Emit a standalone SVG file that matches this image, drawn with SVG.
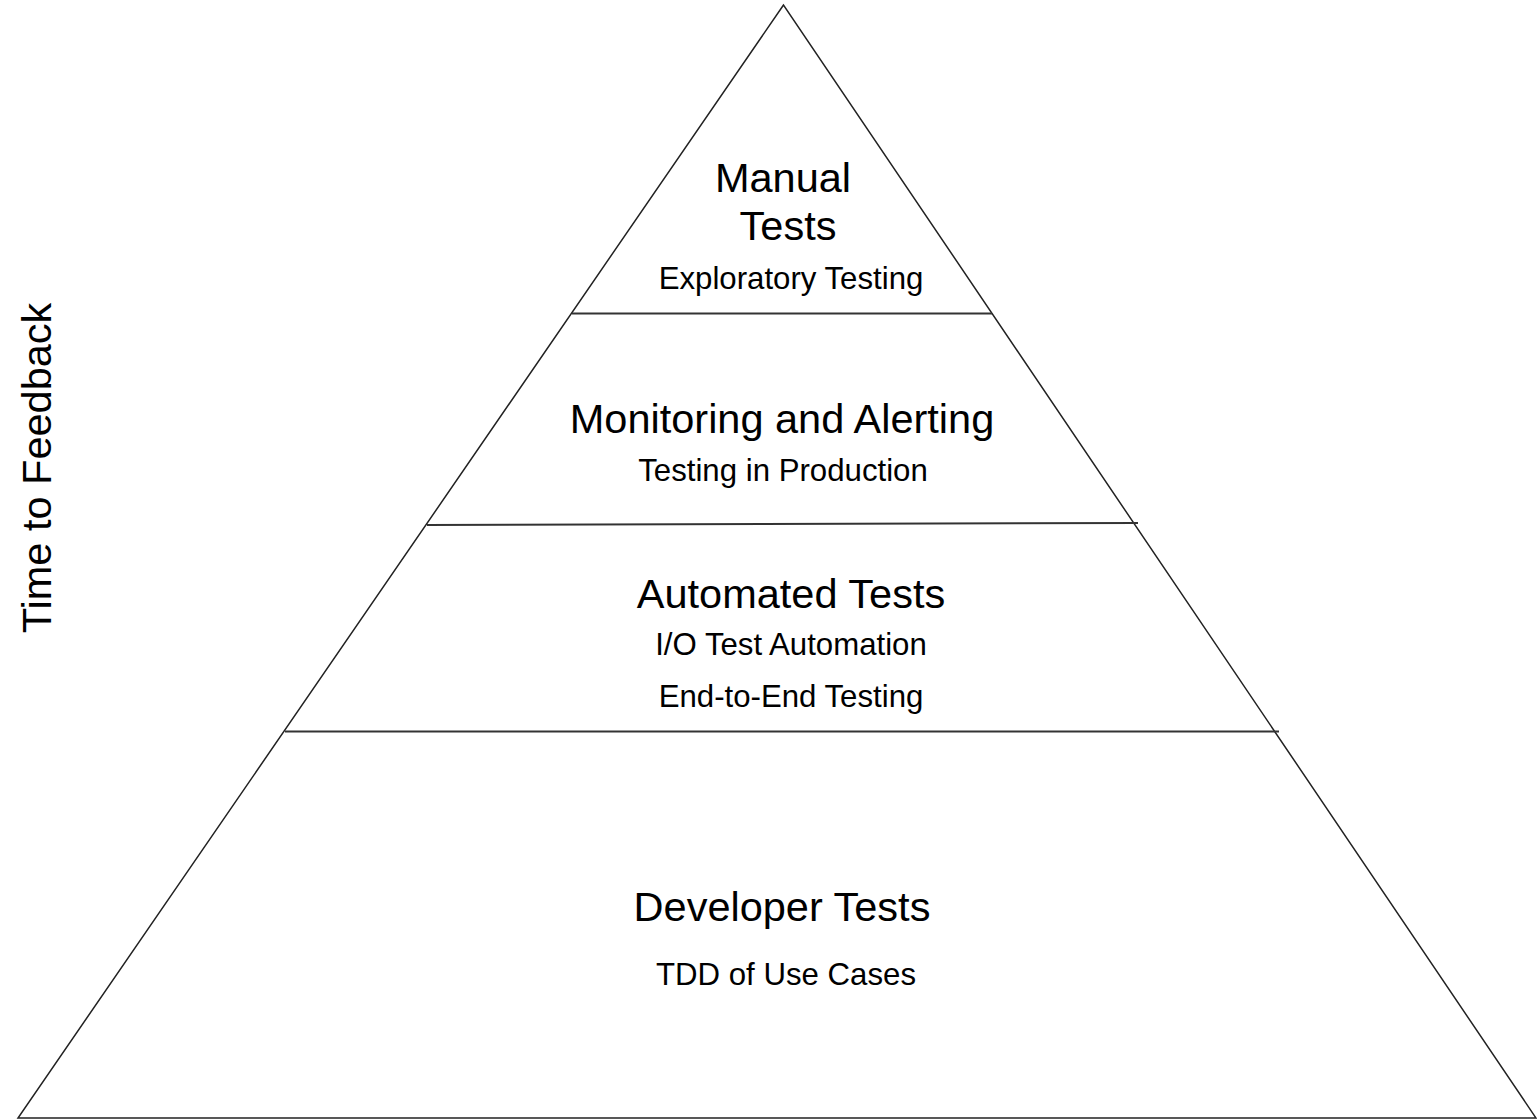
<svg xmlns="http://www.w3.org/2000/svg" width="1537" height="1120" viewBox="0 0 1537 1120">
<style>
.edge{fill:none;stroke:#222;stroke-width:1.5}
.div{fill:none;stroke:#333;stroke-width:2}
.big{font-family:"Liberation Sans",Arial,sans-serif;font-size:41.5px;fill:#000;text-anchor:middle}
.small{font-family:"Liberation Sans",Arial,sans-serif;font-size:31.2px;fill:#000;text-anchor:middle}
</style>
<rect width="1537" height="1120" fill="#fff"/>
<g id="pyramid">
<polygon class="edge" points="783.5,5 18,1118 1536,1118"/>
</g>
<g id="connectors">
<line class="div" x1="572" y1="313.5" x2="992" y2="313.5"/>
<line class="div" x1="427" y1="525" x2="1138" y2="523"/>
<line class="div" x1="285" y1="731.5" x2="1279" y2="731.5"/>
</g>
<g id="manual">
<text class="big" x="783" y="192">Manual</text>
<text class="big" x="788" y="240">Tests</text>
<text class="small" x="791" y="289">Exploratory Testing</text>
</g>
<g id="monitoring">
<text class="big" x="782" y="433">Monitoring and Alerting</text>
<text class="small" x="783" y="481">Testing in Production</text>
</g>
<g id="automated">
<text class="big" x="791" y="608">Automated Tests</text>
<text class="small" x="791" y="655">I/O Test Automation</text>
<text class="small" x="791" y="707">End-to-End Testing</text>
</g>
<g id="developer">
<text class="big" x="782" y="921">Developer Tests</text>
<text class="small" x="786" y="985">TDD of Use Cases</text>
</g>
<g id="axis">
<text class="big" transform="translate(51,468) rotate(-90)" x="0" y="0">Time to Feedback</text>
</g>
</svg>
